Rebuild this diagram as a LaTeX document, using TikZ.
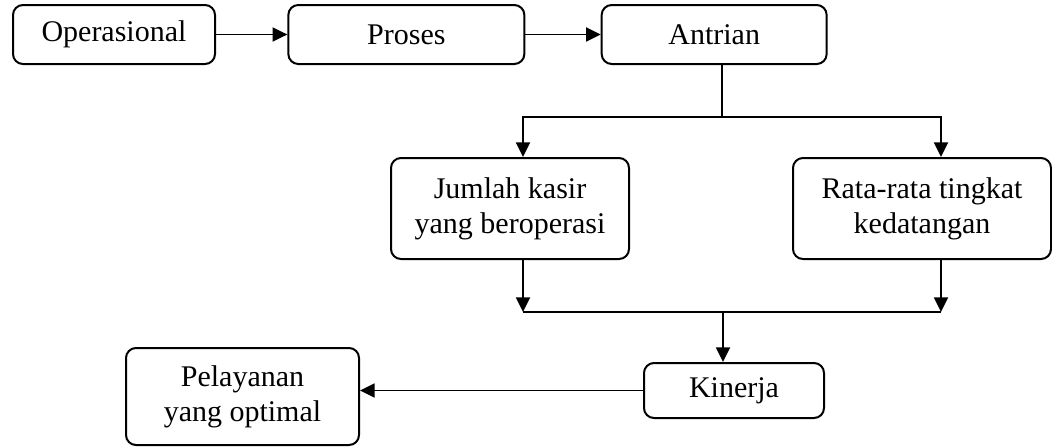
\documentclass[tikz,border=0pt]{standalone}
\usepackage{fontspec}
\setmainfont{Liberation Serif}
\usetikzlibrary{positioning,arrows.meta}

\begin{document}
\begin{tikzpicture}[
		x=0.75pt, y=-0.75pt,
		boxnode/.style={rectangle, rounded corners=7.5pt, draw=black, line width=1.5pt, align=center, inner sep=0pt, font=\fontsize{22.5}{26.5}\selectfont},
		link/.style={line width=1.4pt},
		arr/.style={link, -{Triangle[length=11pt, width=10.5pt]}},
	]
		\useasboundingbox (0,0) rectangle (1052,446);

		% nodes
		\node[boxnode, minimum width=151.5pt, minimum height=44.25pt] (ops) at (114,34.5) {Operasional};
		\node[boxnode, minimum width=177pt, minimum height=44.25pt] (proc) [right=53.5pt of ops] {Proses};
		\node[boxnode, minimum width=168.75pt, minimum height=44.25pt] (queue) [right=56.5pt of proc] {Antrian};
		\node[boxnode, minimum width=178.5pt, minimum height=75.75pt] (kasir) at (510,208.5) {Jumlah kasir\\yang beroperasi};
		\node[boxnode, minimum width=193.5pt, minimum height=75.75pt] (rate) at (922,208.5) {Rata-rata tingkat\\kedatangan};
		\node[boxnode, minimum width=135pt, minimum height=41.25pt] (perf) at (734,390.5) {Kinerja};
		\node[boxnode, minimum width=174.75pt, minimum height=72.75pt] (serv) at (242.5,396.5) {Pelayanan\\yang optimal};

		% branch points
		\coordinate (split) at (722,117);
		\coordinate (join) at (723,312);

		% lines
		\draw[arr] (ops.east) -- (proc.west);
		\draw[arr] (proc.east) -- (queue.west);
		\draw[link] (queue.south -| split) -- (split);
		\draw[arr] (split) -| ([xshift=9.75pt]kasir.north);
		\draw[arr] (split) -| ([xshift=14.25pt]rate.north);
		\draw[arr] ([xshift=9.75pt]kasir.south) -- ([xshift=9.75pt]kasir.south |- join);
		\draw[arr] ([xshift=14.25pt]rate.south) -- ([xshift=14.25pt]rate.south |- join);
		\draw[link] ([xshift=9.75pt]kasir.south |- join) -- ([xshift=14.25pt]rate.south |- join);
		\draw[arr] (join) -- (perf.north -| join);
		\draw[arr] (perf.west) -- (serv.east |- perf.west);
	\end{tikzpicture}
\end{document}
